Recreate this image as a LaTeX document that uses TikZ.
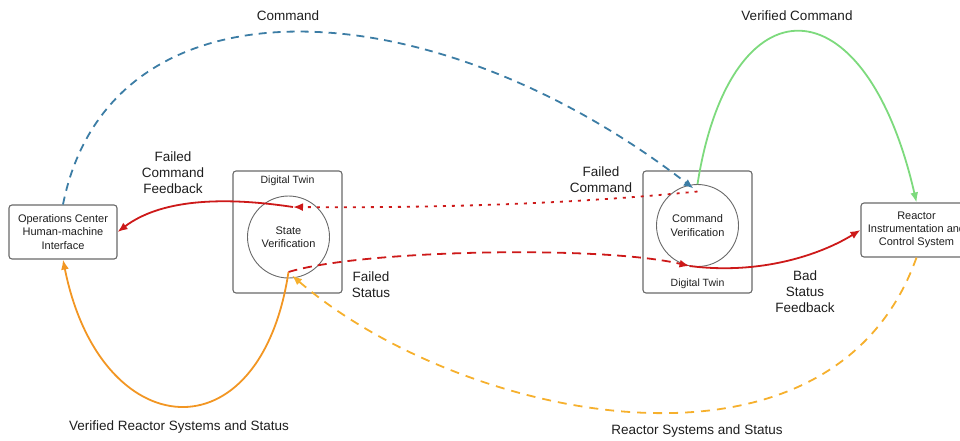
\documentclass[tikz,border=0pt]{standalone}
\usepackage{fontspec}
\setmainfont{Liberation Sans}
\usetikzlibrary{arrows.meta,calc}
\definecolor{cblue}{RGB}{60,125,165}
\definecolor{cgreen}{RGB}{125,218,125}
\definecolor{cred}{RGB}{205,25,25}
\definecolor{corange}{RGB}{242,150,35}
\definecolor{cyellow}{RGB}{246,176,45}
\definecolor{cgray}{RGB}{105,105,105}
\definecolor{ctext}{RGB}{30,30,30}
\begin{document}
\begin{tikzpicture}[x=1pt,y=-1pt,
  every node/.style={text=ctext},
  sysbox/.style={draw=cgray, rounded corners=3pt, line width=1.1pt, minimum width=108pt, minimum height=54pt, align=center, inner sep=0pt, font=\fontsize{11}{13.3}\selectfont},
  twinbox/.style={draw=cgray, rounded corners=3pt, line width=1.1pt, minimum width=109pt, minimum height=122pt, inner sep=0pt},
  verif/.style={draw=cgray, circle, minimum size=82pt, line width=0.9pt, align=center, inner sep=0pt, font=\fontsize{11}{13.3}\selectfont},
  twinlbl/.style={font=\fontsize{10.5}{12}\selectfont, inner sep=0pt},
  lbl/.style={align=center, inner sep=0pt, font=\fontsize{13.5}{16}\selectfont},
  arr/.style={line width=1.8pt, -{Latex[length=10pt,width=8pt]}}
]
\useasboundingbox (0,0) rectangle (960,440);
\clip (0,0) rectangle (960,440);

% main nodes
\node[sysbox] (ops) at (63,232) {Operations Center\\Human-machine\\Interface};
\node[sysbox, minimum width=111pt] (reactor) at (916.5,230) {Reactor\\Instrumentation and\\Control System};

\node[twinbox] (ltwin) at (287.5,232) {};
\node[twinlbl] (ltwinlbl) at (287.5,181) {Digital Twin};
\node[verif] (sv) at (288.5,237) {State\\Verification};

\node[twinbox] (rtwin) at (697.5,232) {};
\node[twinlbl] (rtwinlbl) at (697.5,284) {Digital Twin};
\node[verif] (rc) at (697.5,225.5) {Command\\Verification};

% junction points
\coordinate (cmdin) at ($(rc.center)+(-4,-37)$);
\coordinate (fcout) at ($(rc.center)+(0,-34)$);
\coordinate (rcbot) at ($(rc.center)+(-8,40.5)$);
\coordinate (svtop) at ($(sv.center)+(4.5,-30)$);
\coordinate (svbot) at ($(sv.center)+(0,35)$);
\coordinate (svin) at ($(sv.center)+(3.5,38.5)$);

% connectors
\draw[arr, cblue, dash pattern=on 8pt off 6pt] (ops.north) .. controls (110,-30) and (430,-15) .. (cmdin);
\draw[arr, cgreen] (rc.north) .. controls (730,-22) and (865,-22) .. (reactor.north);
\draw[arr, cred, dash pattern=on 3pt off 6pt] (fcout) .. controls (560,205) and (420,208) .. (svtop);
\draw[arr, cred] (svtop) .. controls (220,196) and (160,200) .. (ops.east);
\draw[arr, cred, dash pattern=on 9pt off 6pt] (svbot) .. controls (360,250) and (600,245) .. (rcbot);
\draw[arr, cred] (rcbot) .. controls (760,275) and (820,255) .. (reactor.west);
\draw[arr, cyellow, dash pattern=on 9pt off 7pt] (reactor.south) .. controls (830,500) and (460,420) .. (svin);
\draw[arr, corange] (svbot) .. controls (260,460) and (100,445) .. (ops.south);

% labels
\node[lbl] (lcmd) at (288,16) {Command};
\node[lbl] (lvc) at (797,16) {Verified Command};
\node[lbl] (lfcf) at (173,173) {Failed\\Command\\Feedback};
\node[lbl] (lfc) at (601,180) {Failed\\Command};
\node[lbl] (lfs) at (371,285) {Failed\\Status};
\node[lbl] (lbsf) at (805,292) {Bad\\Status\\Feedback};
\node[lbl] (lvrs) at (179,427) {Verified Reactor Systems and Status};
\node[lbl] (lrs) at (697,431) {Reactor Systems and Status};
\end{tikzpicture}
\end{document}
